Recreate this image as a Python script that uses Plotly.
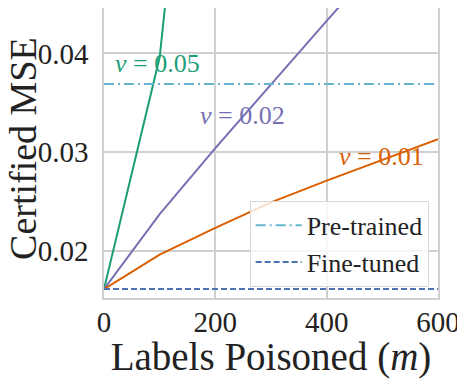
import plotly.graph_objects as go

# -------------------------
# Data
# -------------------------
m_vals = [0, 100, 200, 300, 400, 500, 600]

mse_nu_005 = [0.0161, 0.0396, 0.0930]
mse_nu_002 = [0.0161, 0.0237, 0.0304, 0.0369, 0.0433, 0.0496, 0.0558]
mse_nu_001 = [0.0161, 0.0196, 0.0223, 0.0249, 0.0271, 0.0292, 0.0313]

pretrained_mse = 0.0369
finetuned_mse = 0.0161

x_ticks = [0, 200, 400, 600]
y_ticks = [0.02, 0.03, 0.04]

# label positions (data coords)
labels = [
    ("0.05", 96, 0.0390, "#1b9e77"),
    ("0.02", 248, 0.0337, "#7570b3"),
    ("0.01", 498, 0.0295, "#d95f02"),
]

FONT = "Liberation Serif"
GRID = "#d0d0d0"
INK = "#222222"

fig = go.Figure()

fig.add_trace(go.Scatter(x=m_vals[:len(mse_nu_005)], y=mse_nu_005, mode="lines",
                         line=dict(color="#1b9e77", width=2), showlegend=False))
fig.add_trace(go.Scatter(x=m_vals, y=mse_nu_002, mode="lines",
                         line=dict(color="#7570b3", width=2), showlegend=False))
fig.add_trace(go.Scatter(x=m_vals, y=mse_nu_001, mode="lines",
                         line=dict(color="#d95f02", width=2), showlegend=False))

# baselines
fig.add_trace(go.Scatter(x=[m_vals[0], m_vals[-1]], y=[pretrained_mse] * 2, mode="lines",
                         name="Pre-trained", legendgroup="a",
                         line=dict(color="#64b5cd", width=2, dash="10px,4px,2px,4px")))
fig.add_trace(go.Scatter(x=[m_vals[0], m_vals[-1]], y=[finetuned_mse] * 2, mode="lines",
                         name="Fine-tuned", legendgroup="b",
                         line=dict(color="#4c72b0", width=2, dash="6px,3px")))

for txt, xm, ym, col in labels:
    fig.add_annotation(x=xm, y=ym, text=f"<i>ν</i> = {txt}", showarrow=False,
                       font=dict(family=FONT, size=26, color=col),
                       xanchor="center", yanchor="middle")

# y title as an annotation so it can sit closer to the left edge
fig.add_annotation(xref="paper", yref="paper", x=0, y=0.514, xshift=-81,
                   text="Certified MSE", textangle=-90, showarrow=False,
                   xanchor="center", yanchor="middle",
                   font=dict(family=FONT, size=38, color=INK))

# page body has an 8px margin, so the figure is a bit smaller than the window
fig.update_layout(
    width=457, height=371,
    margin=dict(l=96, r=27, t=0, b=81, autoexpand=False),
    paper_bgcolor="white", plot_bgcolor="white",
    font=dict(family=FONT, color=INK),
    legend=dict(
        x=0.972, y=0.335, xanchor="right", yanchor="top",
        bgcolor="rgba(255,255,255,0.8)", bordercolor="#d8d8d8", borderwidth=1,
        font=dict(family=FONT, size=26, color=INK),
        tracegroupgap=0, traceorder="grouped", itemwidth=46,
    ),
    xaxis=dict(
        range=[0, 600], tickvals=x_ticks, ticks="", automargin=False,
        showgrid=True, gridcolor=GRID, gridwidth=1.5, zeroline=False,
        showline=True, mirror=True, linecolor=GRID, linewidth=1.5,
        tickfont=dict(family=FONT, size=29, color=INK), ticklabelstandoff=-3,
        title=dict(text="Labels Poisoned (<i>m</i>)",
                   font=dict(family=FONT, size=39, color=INK), standoff=0),
    ),
    yaxis=dict(
        range=[0.0152, 0.0446], tickvals=y_ticks, tickformat=".2f", ticks="",
        automargin=False,
        showgrid=True, gridcolor=GRID, gridwidth=1.5, zeroline=False,
        showline=True, mirror=True, linecolor=GRID, linewidth=1.5,
        tickfont=dict(family=FONT, size=29, color=INK), ticklabelstandoff=8,
    ),
)

fig.write_html("out.html")
